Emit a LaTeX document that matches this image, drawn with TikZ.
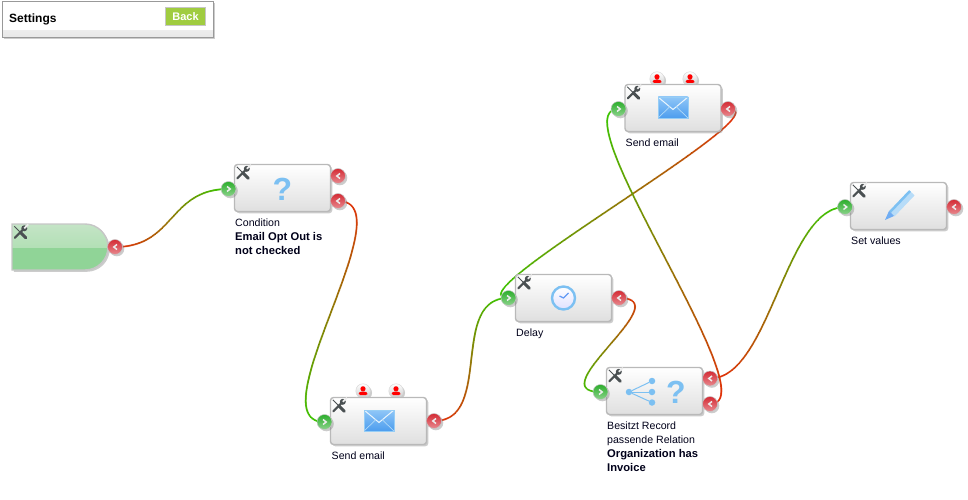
\documentclass[tikz,border=0pt]{standalone}
\usepackage{fontspec}
\setmainfont{Liberation Sans}
\usetikzlibrary{calc,shapes.misc,shadows,backgrounds,decorations.markings}
\definecolor{wiregreen}{HTML}{33CC00}
\definecolor{wirered}{HTML}{E82A08}
\definecolor{iconblue}{HTML}{7CC0F2}
\definecolor{tooldark}{HTML}{4A5052}
\definecolor{starttop}{HTML}{C4E4C6}
\definecolor{startmid}{HTML}{A2DCA6}
\definecolor{startlow}{HTML}{90D497}
\definecolor{portred}{HTML}{D42A34}
\definecolor{portgreen}{HTML}{2CAE2C}
\definecolor{mailtop}{HTML}{8FC6F7}
\definecolor{maillow}{HTML}{4D9DEE}
\definecolor{backgreen}{HTML}{A0CC40}
\newcommand{\boldline}{\fontsize{11.2}{14}\selectfont\bfseries}
\tikzset{
  softshadow/.style = {drop shadow = {opacity = .4,shadow xshift = 1.8pt,shadow yshift = -1.8pt,fill = gray}},
  stepbox/.style = {rectangle,rounded corners = 3pt,draw = gray!55,line width = 1.4pt,top color = white,
    bottom color = gray!25,minimum width = 96pt,minimum height = 47pt,inner sep = 0pt,softshadow},
  startbox/.style = {rounded rectangle,rounded rectangle west arc = none,draw = gray!45,line width = 1.4pt,
    fill = startlow,minimum width = 96pt,minimum height = 46pt,inner sep = 0pt,softshadow,
    path picture = {\shade[top color = starttop,bottom color = startmid]
      (path picture bounding box.north west) rectangle (path picture bounding box.east);}},
  port/.style = {circle,minimum size = 15pt,inner sep = 0pt,draw = gray!45,line width = .5pt,softshadow},
  outport/.style = {port,top color = portred,bottom color = portred!55!white,
    path picture = {\draw[white!85!gray,line width = 1.5pt] ($(path picture bounding box.center)+(2,-2.5)$)
      -- ++(-3.2,2.5) -- ++(3.2,2.5);}},
  inport/.style = {port,top color = portgreen,bottom color = portgreen!55!white,
    path picture = {\draw[white!85!gray,line width = 1.5pt] ($(path picture bounding box.center)+(-1.5,-2.5)$)
      -- ++(3.2,2.5) -- ++(-3.2,2.5);}},
  userport/.style = {circle,minimum size = 14.5pt,inner sep = 0pt,draw = gray!30,line width = .5pt,top color = white,bottom color = gray!40,softshadow,
    path picture = {\fill[red] ($(path picture bounding box.center)+(0,-2.2)$) circle (2.6pt);
      \fill[red,rounded corners = 1.5pt] ($(path picture bounding box.center)+(-4.5,4)$) -- ++(0,-2.2)
      -- ++(2.2,-1.3) -- ++(4.6,0) -- ++(2.2,1.3) -- ++(0,2.2) -- cycle;}},
  wire/.style = {draw = wiregreen!50!wirered,line width = .3pt,postaction = {decorate},
    decoration = {markings,mark = between positions 0 and 1 step 1pt with {
      \pgfmathtruncatemacro{\mixval}{100*(\pgfkeysvalueof{/pgf/decoration/mark info/distance from start}/\pgfdecoratedpathlength)}
      \fill[wiregreen!\mixval!wirered] (0,0) circle (1.05pt);}}},
  caption/.style = {anchor = north west,align = left,inner sep = 0pt,font = \fontsize{10.6}{14}\selectfont,text = black!90!blue},
  questionmark/.style = {inner sep = 0pt,text = iconblue,font = \fontsize{32}{32}\selectfont\bfseries},
  mailicon/.style = {rectangle,minimum width = 30pt,minimum height = 21pt,inner sep = 0pt,draw = iconblue!80!white,line width = .6pt,
    top color = mailtop,bottom color = maillow,
    path picture = {\draw[white!85!iconblue,line width = 1pt] (path picture bounding box.north west)
      -- ($(path picture bounding box.center)+(0,2)$) -- (path picture bounding box.north east);
      \draw[white!40!iconblue,line width = .7pt] (path picture bounding box.south west)
      -- ($(path picture bounding box.center)+(-3,-1)$) ($(path picture bounding box.center)+(3,-1)$)
      -- (path picture bounding box.south east);}},
  clockicon/.style = {circle,minimum size = 23pt,inner sep = 0pt,draw = iconblue,line width = 2.4pt,
    top color = white,bottom color = blue!12!white,
    path picture = {\draw[iconblue!80!blue,line width = 1.2pt] ($(path picture bounding box.center)+(-4,-2)$)
      -- (path picture bounding box.center) -- ++(5,-5);}},
  leaf/.style = {circle,minimum size = 6.5pt,inner sep = 0pt,fill = iconblue},
  toolsicon/.pic = {
    \draw[tooldark,line width = 1pt] (-6,-6) -- (0,0);
    \draw[tooldark,line width = 3pt,line cap = round] (0,0) -- (5.5,5.5);
    \draw[tooldark,line width = 2.2pt,line cap = round] (-5.5,5.5) -- (3.5,-3.5);
    \fill[tooldark] (4,-4) circle (3pt);
    \draw[white!85!gray,line width = 1.8pt] (4,-4) -- (8,-8);
  },
  pencilicon/.pic = {
    \draw[iconblue!55!white,line width = 7pt] (-6,8) -- (14,-13);
    \draw[iconblue,line width = 2.5pt] (-8,6) -- (12,-15);
    \fill[iconblue!90!blue] (-9,5) -- (-4,10) -- (-13,14) -- cycle;
  },
}
\begin{document}
\begin{tikzpicture}[x=1pt,y=-1pt]
\useasboundingbox (0,0) rectangle (968,500);
\node[draw = gray!80,fill = white,minimum width = 211pt,minimum height = 36pt,inner sep = 0pt,softshadow,
  path picture = {\shade[top color = white,bottom color = gray!18]
    ($(path picture bounding box.south west)+(0,-6)$) rectangle (path picture bounding box.south east);}]
  (Panel) at (107.5,19) {};
\node[anchor = west,inner sep = 0pt,font = \fontsize{12}{12}\selectfont\bfseries] (PanelTitle) at (9,19) {Settings};
\node[draw = gray!45,line width = 1pt,fill = backgreen,minimum width = 40pt,minimum height = 18pt,inner sep = 0pt,
  text = white,font = \fontsize{11}{11}\selectfont\bfseries] (Back) at (185.5,16.5) {Back};

\node[startbox] (Start) at (60,247) {};
\node[userport] (MailAUserA) at (363,391) {};
\node[userport] (MailAUserB) at (396,391) {};
\node[userport] (MailBUserA) at (657,79) {};
\node[userport] (MailBUserB) at (690,79) {};
\node[stepbox] (Cond) at (282.5,188) {};
\node[stepbox] (MailA) at (378.5,421) {};
\node[stepbox] (Delay) at (563.5,298) {};
\node[stepbox] (Rel) at (654.5,391) {};
\node[stepbox] (MailB) at (673,108) {};
\node[stepbox] (Set) at (898.5,206) {};

\foreach \boxname in {Start,Cond,MailA,Delay,Rel,MailB,Set}
  \pic at ($(\boxname.north west)+(9,9)$) {toolsicon};

\node[questionmark] (CondIcon) at (282.5,189) {?};
\node[mailicon] (MailAIcon) at (379,420.5) {};
\node[clockicon] (DelayIcon) at (563.5,298) {};
\node[mailicon] (MailBIcon) at (673,107.5) {};
\pic at (898,206) {pencilicon};
\node[leaf] (RelRoot) at (629,392) {};
\node[leaf] (RelLeafA) at (652,381) {};
\node[leaf] (RelLeafB) at (652,392) {};
\node[leaf] (RelLeafC) at (652,402.5) {};
\draw[iconblue,line width = 1pt] (RelRoot) -- (RelLeafB);
\draw[iconblue,line width = 1pt] (RelRoot) -- (RelLeafA);
\draw[iconblue,line width = 1pt] (RelRoot) -- (RelLeafC);
\node[questionmark] (RelIcon) at (676,392) {?};

\node[outport] (StartOut) at (115,247) {};
\node[inport] (CondIn) at (228.5,189) {};
\node[outport] (CondOutA) at (338,176) {};
\node[outport] (CondOutB) at (338,201) {};
\node[inport] (MailAIn) at (324.5,422) {};
\node[outport] (MailAOut) at (434,421) {};
\node[inport] (DelayIn) at (508.5,298) {};
\node[outport] (DelayOut) at (619,298) {};
\node[inport] (RelIn) at (600.5,392) {};
\node[outport] (RelOutA) at (710,378.5) {};
\node[outport] (RelOutB) at (710,404) {};
\node[inport] (MailBIn) at (618.5,109) {};
\node[outport] (MailBOut) at (728,109) {};
\node[inport] (SetIn) at (845,207) {};
\node[outport] (SetOut) at (954,207) {};

\begin{scope}[on background layer]
\draw[wire] (StartOut.center) .. controls +(60,0) and +(-60,0) .. (CondIn.center);
\draw[wire] (CondOutB.center) .. controls +(70,0) and +(-70,0) .. (MailAIn.center);
\draw[wire] (MailAOut.center) .. controls +(60,0) and +(-60,0) .. (DelayIn.center);
\draw[wire] (DelayOut.center) .. controls +(62,0) and +(-62,0) .. (RelIn.center);
\draw[wire] (MailBOut.center) .. controls +(62,0) and +(-62,0) .. (DelayIn.center);
\draw[wire] (RelOutB.center) .. controls +(62,0) and +(-62,0) .. (MailBIn.center);
\draw[wire] (RelOutA.center) .. controls +(60,0) and +(-60,0) .. (SetIn.center);
\end{scope}

\node[caption] (CondText) at (235,218.5) {Condition\\\boldline Email Opt Out is\\\boldline not checked};
\node[caption] (MailAText) at (331.5,451.5) {Send email};
\node[caption] (DelayText) at (516,328.5) {Delay};
\node[caption] (RelText) at (607,421.5) {Besitzt Record\\passende Relation\\\boldline Organization has\\\boldline Invoice};
\node[caption] (MailBText) at (625.5,138.5) {Send email};
\node[caption] (SetText) at (851,236.5) {Set values};
\end{tikzpicture}
\end{document}
